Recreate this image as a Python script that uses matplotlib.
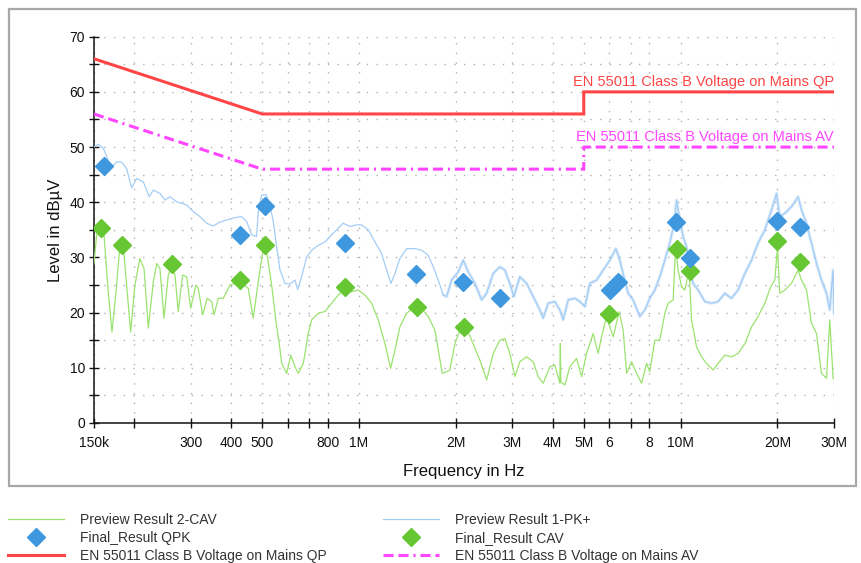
import matplotlib
matplotlib.use("Agg")
import matplotlib.pyplot as plt
from matplotlib.patches import Rectangle
from matplotlib.ticker import FixedLocator, NullFormatter, FixedFormatter

plt.rcParams['font.family'] = ['Liberation Sans', 'DejaVu Sans']

# ---- measurement data (frequency in MHz, level in dBuV) ----
pk_freq = [0.150, 0.1547, 0.1603, 0.1661, 0.1702, 0.1765, 0.1828, 0.1895, 0.1964, 0.2036,
           0.2135, 0.2228, 0.2294, 0.2405, 0.2494, 0.2583, 0.2712, 0.2912, 0.3054, 0.3202,
           0.3361, 0.352, 0.3695, 0.3879, 0.4116, 0.4317, 0.4475, 0.4638, 0.4807, 0.4862,
           0.4982, 0.5139, 0.5285, 0.5415, 0.5548, 0.5677, 0.5888, 0.6099, 0.6325, 0.6447,
           0.6634, 0.6877, 0.7127, 0.7472, 0.7841, 0.8223, 0.8621, 0.8938, 0.9371, 0.9836,
           1.0193, 1.0686, 1.1214, 1.1761, 1.2192, 1.2571, 1.2941, 1.3403, 1.4069, 1.4932,
           1.5661, 1.6419, 1.7022, 1.7637, 1.8284, 1.8733, 1.9412, 2.0352, 2.1098, 2.1861,
           2.2942, 2.4062, 2.4943, 2.6152, 2.7418, 2.8436, 2.9453, 3.0328, 3.1638, 3.321,
           3.482, 3.651, 3.740, 3.876, 4.067, 4.213, 4.316, 4.472, 4.693, 4.861,
           5.041, 5.222, 5.481, 5.747, 6.026, 6.294, 6.472, 6.665, 6.871, 7.123,
           7.468, 7.746, 8.023, 8.320, 8.618, 8.938, 9.257, 9.553, 9.717, 9.944,
           10.19, 10.44, 10.68, 10.94, 11.34, 11.90, 12.48, 13.09, 13.73, 14.40,
           15.10, 15.85, 16.62, 17.42, 18.28, 19.18, 19.88, 20.34, 21.10, 22.13,
           23.20, 23.77, 24.64, 25.53, 26.47, 27.43, 28.43, 29.10, 29.81, 30.0]
pk_level = [50.0, 50.5, 49.8, 47.6, 46.4, 47.3, 47.3, 46.1, 42.6, 44.3,
            43.7, 41.0, 42.2, 41.6, 40.4, 41.0, 40.1, 39.5, 38.3, 37.4,
            36.2, 35.7, 36.4, 36.8, 37.2, 37.4, 36.5, 34.1, 33.8, 38.3,
            41.3, 41.4, 39.5, 36.5, 31.9, 27.8, 25.3, 25.2, 25.9, 24.2,
            26.5, 30.1, 31.3, 32.2, 32.8, 34.1, 35.3, 36.2, 35.6, 35.9,
            35.9, 35.0, 32.8, 30.7, 27.7, 25.3, 27.1, 29.8, 31.6, 31.6,
            31.3, 30.4, 28.3, 25.9, 23.2, 22.9, 25.9, 27.4, 29.5, 27.4,
            25.3, 22.3, 23.5, 27.1, 28.3, 27.7, 25.3, 22.9, 26.5, 25.3,
            22.9, 20.5, 19.0, 21.7, 22.0, 20.5, 18.7, 22.3, 22.6, 22.0,
            21.1, 25.3, 25.9, 27.7, 29.5, 31.6, 29.5, 26.5, 23.5, 22.3,
            19.3, 20.5, 22.6, 24.1, 26.5, 29.5, 32.6, 36.2, 40.4, 36.8,
            33.8, 31.9, 28.3, 25.3, 24.1, 22.0, 21.7, 22.0, 23.5, 22.6,
            24.1, 27.1, 29.5, 32.6, 35.0, 38.6, 41.6, 37.4, 38.0, 39.2,
            41.0, 38.6, 36.2, 32.6, 28.9, 25.9, 23.5, 20.5, 27.7, 20.0]

cav_freq = [0.150, 0.1529, 0.1565, 0.1611, 0.1661, 0.1706, 0.1756, 0.1806, 0.1850, 0.1895,
            0.1949, 0.2011, 0.2083, 0.2146, 0.2213, 0.2294, 0.2350, 0.2405, 0.2476, 0.2553,
            0.2616, 0.2679, 0.2742, 0.2830, 0.2912, 0.2996, 0.3113, 0.3164, 0.3266, 0.3375,
            0.3483, 0.3542, 0.3652, 0.3786, 0.3969, 0.4264, 0.4526, 0.4692, 0.4862, 0.5041,
            0.5164, 0.5352, 0.5520, 0.5677, 0.5749, 0.5959, 0.6141, 0.6325, 0.6475, 0.6712,
            0.6955, 0.7127, 0.7472, 0.7841, 0.8223, 0.8621, 0.9048, 0.9489, 0.9948, 1.0440,
            1.0949, 1.1479, 1.2046, 1.2542, 1.2941, 1.3403, 1.4069, 1.4932, 1.5661, 1.6419,
            1.7230, 1.7723, 1.8152, 1.8733, 1.9170, 1.9882, 2.0593, 2.1251, 2.2400, 2.3763,
            2.4943, 2.6152, 2.7418, 2.8436, 2.9453, 3.0546, 3.1638, 3.321, 3.482, 3.608,
            3.740, 3.922, 4.067, 4.213, 4.228, 4.245, 4.369, 4.525, 4.750, 4.922,
            5.102, 5.350, 5.543, 5.680, 5.888, 6.173, 6.441, 6.631, 6.794, 7.040,
            7.298, 7.563, 7.840, 8.023, 8.320, 8.618, 8.938, 9.149, 9.485, 9.649,
            9.828, 10.07, 10.31, 10.63, 10.82, 11.21, 11.62, 12.04, 12.63, 13.09,
            13.73, 14.40, 15.10, 15.85, 16.62, 17.42, 18.28, 19.08, 19.64, 20.02,
            20.34, 21.10, 22.13, 23.20, 23.77, 24.64, 25.53, 26.47, 27.43, 28.43,
            29.10, 29.81, 30.0]
cav_level = [28.9, 34.1, 35.3, 34.1, 23.8, 16.5, 23.8, 32.2, 32.2, 25.0,
             16.5, 25.0, 29.8, 28.0, 17.2, 25.6, 28.9, 28.0, 19.0, 26.8,
             28.3, 26.8, 20.2, 26.8, 26.5, 20.8, 25.0, 24.4, 19.6, 22.6,
             22.0, 19.6, 22.6, 22.6, 25.0, 25.6, 24.4, 19.0, 25.6, 31.6,
             31.0, 25.0, 18.4, 13.5, 10.8, 9.0, 12.3, 10.2, 9.0, 10.8,
             16.2, 18.7, 19.9, 20.2, 21.7, 23.2, 24.1, 23.8, 24.1, 23.2,
             21.7, 18.7, 14.4, 9.9, 13.2, 17.4, 19.9, 21.1, 20.8, 19.3,
             16.8, 12.6, 9.0, 9.3, 9.6, 14.4, 16.8, 18.1, 15.0, 11.4,
             7.8, 12.6, 15.0, 15.3, 12.6, 8.4, 11.1, 12.0, 11.1, 8.4,
             7.2, 10.2, 10.5, 7.2, 14.4, 7.4, 6.9, 10.2, 11.7, 8.4,
             12.6, 16.2, 12.6, 15.6, 19.3, 15.6, 20.2, 16.8, 9.0, 11.1,
             9.0, 7.2, 10.8, 9.3, 15.0, 15.0, 19.9, 21.7, 22.3, 31.9,
             27.7, 24.7, 24.1, 27.7, 18.7, 13.8, 12.0, 10.8, 9.6, 10.8,
             12.3, 12.0, 12.6, 14.4, 17.4, 19.3, 21.7, 24.7, 25.9, 31.9,
             23.5, 24.1, 25.3, 27.7, 25.9, 24.1, 18.1, 16.2, 9.0, 8.1,
             18.7, 8.1, 8.0]

qpk_freq = [0.161, 0.427, 0.510, 0.904, 1.503, 2.106, 2.75, 6.03, 6.39, 9.68, 10.7, 19.95, 23.5]
qpk_level = [46.6, 34.1, 39.3, 32.6, 27.0, 25.5, 22.6, 24.1, 25.5, 36.4, 29.9, 36.6, 35.5]

cavf_freq = [0.1577, 0.1836, 0.262, 0.428, 0.512, 0.904, 1.52, 2.12, 5.99, 9.72, 10.7, 20.0, 23.5]
cavf_level = [35.3, 32.2, 28.8, 26.0, 32.2, 24.6, 21.0, 17.4, 19.7, 31.5, 27.6, 33.0, 29.2]

# EN 55011 class B mains limits
lim_freq = [0.15, 0.5, 5.0, 5.0, 30.0]
lim_qp = [66, 56, 56, 60, 60]
lim_av = [56, 46, 46, 50, 50]

tick_pos = [0.15, 0.2, 0.3, 0.4, 0.5, 0.6, 0.7, 0.8, 1, 2, 3, 4, 5, 6, 7, 8, 10, 20, 30]
tick_lab = ['150k', '', '300', '400', '500', '', '', '800', '1M', '2M', '3M', '4M', '5M',
            '6', '', '8', '10M', '20M', '30M']

W, H = 861, 563
fig = plt.figure(figsize=(W / 100, H / 100), dpi=100)
fig.patch.set_facecolor('white')
ax = fig.add_axes([94 / W, 1 - 423 / H, 740 / W, 386.3 / H])

c_pk = '#a3cdf5'
c_cav = '#9be36f'
c_qpk = '#3f98de'
c_cavf = '#66c733'
c_qp = '#ff4545'
c_av = '#ff45ff'

l_cav, = ax.plot(cav_freq, cav_level, color=c_cav, lw=0.9, zorder=3)
l_pk, = ax.plot(pk_freq, pk_level, color=c_pk, lw=0.9, zorder=3)
# the fast-sweeping upper band of the peak trace renders as a fuzzy ribbon
hf = next(i for i, f in enumerate(pk_freq) if f >= 1.8)
ax.plot(pk_freq[hf:], pk_level[hf:], color=c_pk, lw=2.3, alpha=0.4, zorder=2)
l_qp, = ax.plot(lim_freq, lim_qp, color=c_qp, lw=2.2, zorder=4, solid_joinstyle='miter')
l_av, = ax.plot(lim_freq, lim_av, color=c_av, lw=2.2, zorder=4,
                linestyle=(0, (3.3, 1.6, 3.3, 1.6, 0.7, 1.6)))
m_qpk, = ax.plot(qpk_freq, qpk_level, 'D', color=c_qpk, ms=8.7, mec=c_qpk, zorder=6)
m_cavf, = ax.plot(cavf_freq, cavf_level, 'D', color=c_cavf, ms=8.7, mec=c_cavf, zorder=5)

ax.text(30, 60.6, 'EN 55011 Class B Voltage on Mains QP', color=c_qp, fontsize=10.5,
        ha='right', va='bottom')
ax.text(30, 50.6, 'EN 55011 Class B Voltage on Mains AV', color=c_av, fontsize=10.5,
        ha='right', va='bottom')

ax.set_xscale('log')
ax.set_xlim(0.15, 30)
ax.set_ylim(0, 70)
ax.xaxis.set_major_locator(FixedLocator(tick_pos))
ax.xaxis.set_major_formatter(FixedFormatter(tick_lab))
ax.xaxis.set_minor_locator(FixedLocator([]))
ax.xaxis.set_minor_formatter(NullFormatter())
ax.yaxis.set_major_locator(FixedLocator(list(range(0, 71, 10))))
ax.yaxis.set_minor_locator(FixedLocator(list(range(5, 70, 10))))

for s in ['top', 'right']:
    ax.spines[s].set_visible(False)
for s in ['left', 'bottom']:
    ax.spines[s].set_linewidth(1.1)
    ax.spines[s].set_color('#111111')

ax.tick_params(axis='x', which='major', direction='inout', length=7, width=1,
               pad=6, labelsize=10, colors='#111111')
ax.tick_params(axis='y', which='both', direction='inout', length=7, width=1,
               pad=3, labelsize=10, colors='#111111')

grid_kw = dict(color='#b0b0b0', lw=1.0, linestyle=(0, (1, 6)))
ax.grid(True, axis='x', which='major', **grid_kw)
ax.grid(True, axis='y', which='both', **grid_kw)
ax.set_axisbelow(True)

ax.set_xlabel('Frequency in Hz', fontsize=12, labelpad=10, color='#111111')
ax.set_ylabel('Level in dBµV', fontsize=12, color='#111111')
ax.yaxis.set_label_coords(-(94 - 63) / 740, 0.5)

# frame around the plot region
fig.patches.append(Rectangle((9 / W, 1 - 486 / H), (856 - 9) / W, (486 - 9) / H,
                             transform=fig.transFigure, fill=False,
                             edgecolor='#a8a8a8', lw=1.6))

leg_kw = dict(loc='upper left', frameon=False, fontsize=10, handlelength=4.0,
              handletextpad=1.2, labelspacing=0.28, borderpad=0, borderaxespad=0,
              labelcolor='#333333', numpoints=1)
fig.legend([l_cav, m_qpk, l_qp],
           ['Preview Result 2-CAV', 'Final_Result QPK', 'EN 55011 Class B Voltage on Mains QP'],
           bbox_to_anchor=(8 / W, 1 - 513 / H), **leg_kw)
fig.legend([l_pk, m_cavf, l_av],
           ['Preview Result 1-PK+', 'Final_Result CAV', 'EN 55011 Class B Voltage on Mains AV'],
           bbox_to_anchor=(383 / W, 1 - 513 / H), **leg_kw)

fig.savefig('out.png', dpi=100)
